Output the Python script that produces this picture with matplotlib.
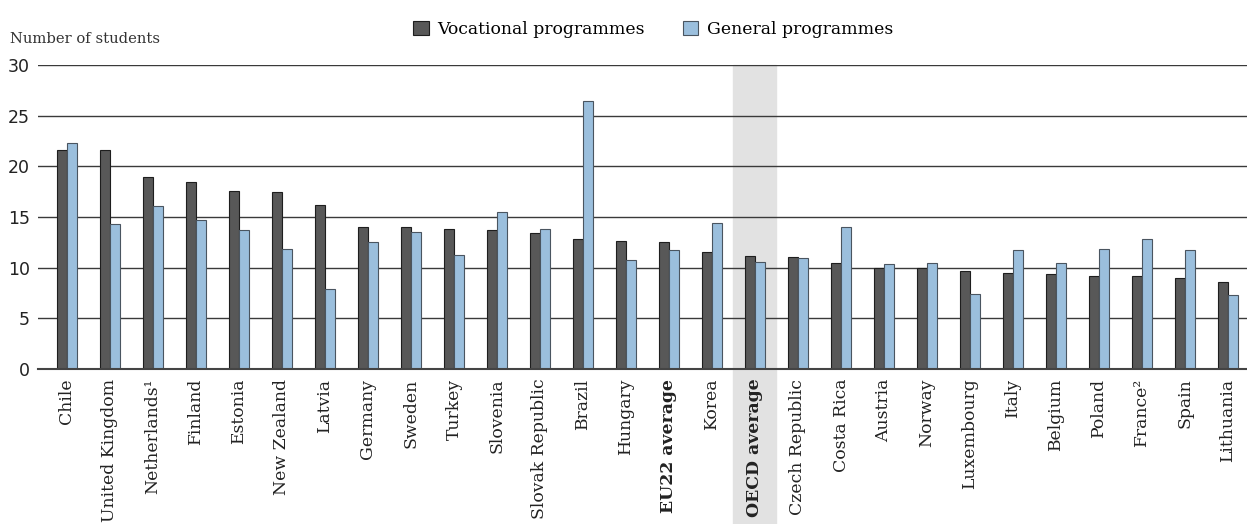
import numpy as np
import matplotlib
matplotlib.use('Agg')
import matplotlib.pyplot as plt
from matplotlib.patches import Rectangle
import matplotlib.transforms as mtransforms

countries = ['Chile', 'United Kingdom', 'Netherlands\u00b9', 'Finland', 'Estonia', 'New Zealand',
             'Latvia', 'Germany', 'Sweden', 'Turkey', 'Slovenia', 'Slovak Republic', 'Brazil',
             'Hungary', 'EU22 average', 'Korea', 'OECD average', 'Czech Republic', 'Costa Rica',
             'Austria', 'Norway', 'Luxembourg', 'Italy', 'Belgium', 'Poland', 'France\u00b2',
             'Spain', 'Lithuania']
vocational = [21.6, 21.6, 19.0, 18.5, 17.6, 17.5, 16.2, 14.0, 14.0, 13.8, 13.7, 13.4, 12.8,
              12.6, 12.5, 11.5, 11.2, 11.05, 10.45, 10.0, 10.0, 9.7, 9.5, 9.35, 9.2, 9.15,
              8.95, 8.6]
general = [22.3, 14.3, 16.1, 14.7, 13.7, 11.8, 7.9, 12.5, 13.55, 11.25, 15.45, 13.8, 26.5,
           10.8, 11.7, 14.4, 10.6, 11.0, 14.05, 10.35, 10.5, 7.4, 11.7, 10.5, 11.8, 12.8,
           11.7, 7.35]
bold_labels = ['EU22 average', 'OECD average']
highlight = 'OECD average'

serif = ['DejaVu Serif']

fig = plt.figure(figsize=(12.47, 5.24), dpi=100)
ax = fig.add_axes([0.0305, 0.2958, 0.9695, 0.580])

x = np.arange(len(countries))
w = 0.235
ax.bar(x - w / 2, vocational, w, color='#585858', edgecolor='#1e1e1e', linewidth=0.8,
       label='Vocational programmes', zorder=3)
ax.bar(x + w / 2, general, w, color='#9bbfdd', edgecolor='#4a5560', linewidth=0.8,
       label='General programmes', zorder=3)

# grey band behind OECD average, running down through the label
hi = countries.index(highlight)
trans = mtransforms.blended_transform_factory(ax.transData, ax.transAxes)
ax.add_patch(Rectangle((hi - 0.5, -0.9), 1.0, 1.9, transform=trans, color='#e2e2e2',
                       zorder=0, clip_on=False))

ax.set_xlim(-0.67, 27.44)
ax.set_ylim(0, 30)
ax.set_yticks([0, 5, 10, 15, 20, 25, 30])
ax.yaxis.grid(True, color='#3a3a3a', linewidth=1.0, zorder=1)
ax.set_axisbelow(True)
for s in ['top', 'right', 'left']:
    ax.spines[s].set_visible(False)
ax.spines['bottom'].set_color('#444444')
ax.spines['bottom'].set_linewidth(1.5)
ax.spines['bottom'].set_zorder(4)
ax.tick_params(axis='both', length=0)
ax.tick_params(axis='y', labelsize=12.5, labelcolor='#222222', pad=6)
ax.tick_params(axis='x', pad=7)

ax.set_xticks(x)
ax.set_xticklabels(countries, rotation=90, family=serif, fontsize=12.4, color='#222222')
for lab in ax.get_xticklabels():
    if lab.get_text() in bold_labels:
        lab.set_fontweight('bold')

fig.text(0.008, 0.913, 'Number of students', family=serif, fontsize=10.6, color='#333333',
         va='bottom', ha='left')

fig.legend(loc='upper center', bbox_to_anchor=(0.524, 0.99), ncol=2, frameon=False,
           prop={'family': serif, 'size': 12.4}, handlelength=0.9, handleheight=0.9,
           handletextpad=0.5, columnspacing=2.2)

fig.savefig('out.png', dpi=100, facecolor='white')
